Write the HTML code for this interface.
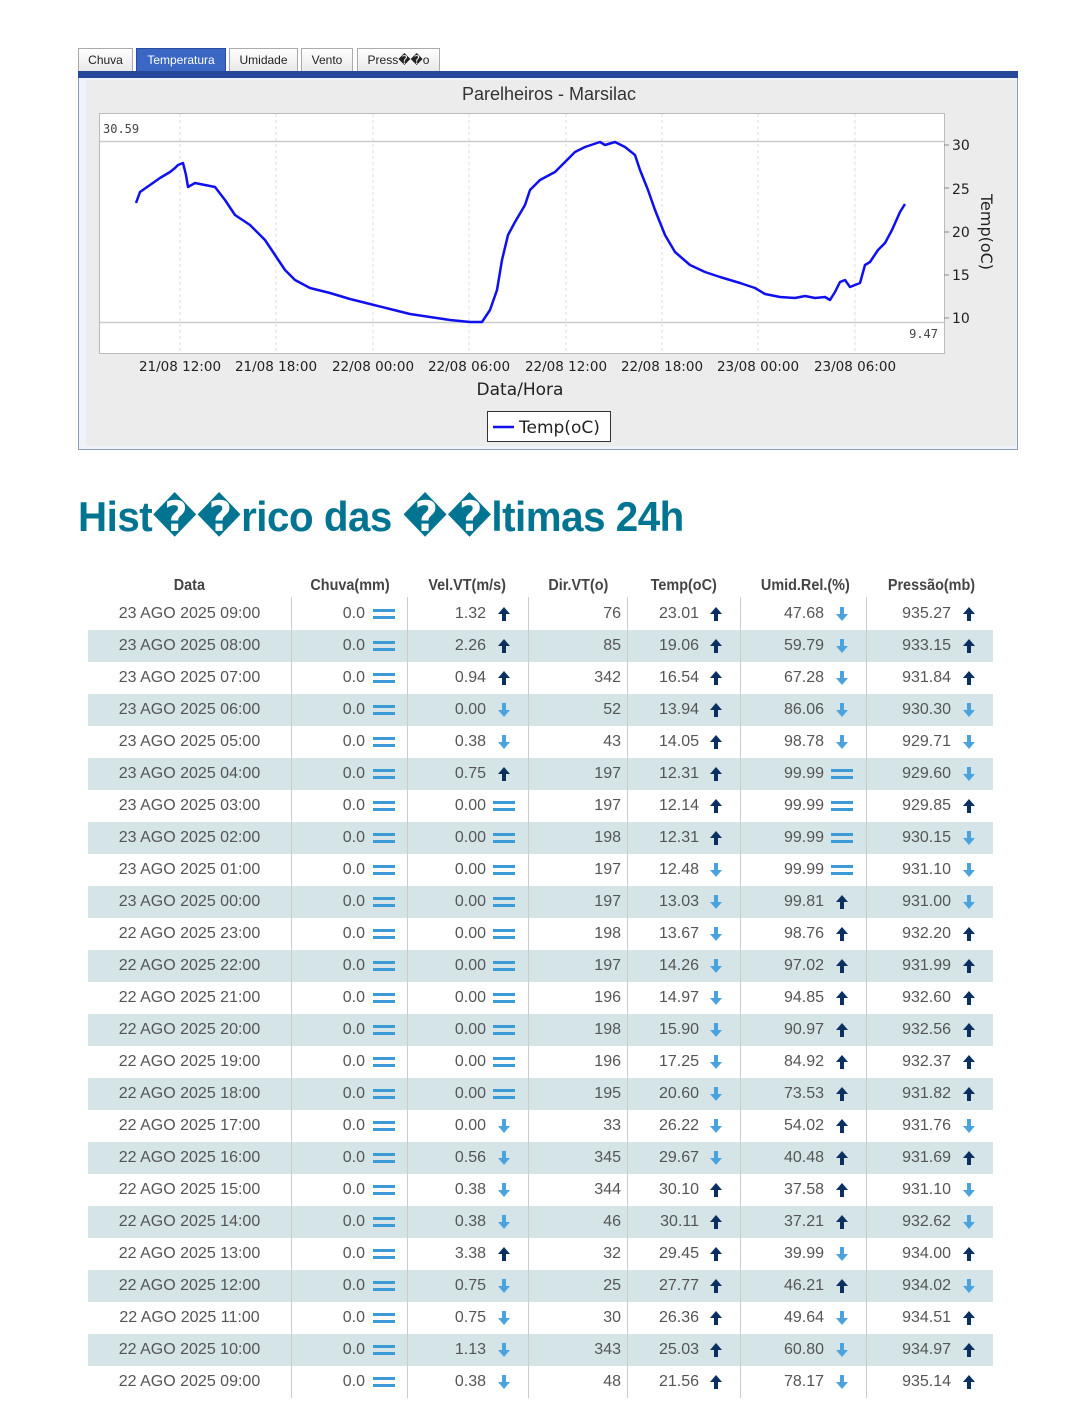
<!DOCTYPE html>
<html><head><meta charset="utf-8"><style>
*{margin:0;padding:0;box-sizing:border-box}
body{width:1080px;height:1424px;background:#fff;position:relative;font-family:"Liberation Sans","DejaVu Sans",sans-serif;overflow:hidden}
.tab{position:absolute;top:48px;height:24px;border:1px solid #aaa;border-bottom:none;background:linear-gradient(#fff,#e8e8e8);font-size:12px;color:#222;text-align:center;line-height:22px}
.tab.on{background:#3a66c4;color:#fff;border-color:#2a4c9c}
#title{position:absolute;left:78px;top:492px;font-size:42px;font-weight:bold;color:#007491;white-space:nowrap;transform-origin:left top;transform:scaleX(0.96);letter-spacing:-0.5px}
.hdr{position:absolute;top:577px;font-size:16px;font-weight:bold;color:#444;transform:scaleX(0.9);white-space:nowrap}
.row{position:absolute;left:88px;width:905px;height:32px;font-size:16px;color:#555}
.row.s{background:#d5e4e7}
.c{position:absolute;top:0;height:32px;line-height:32px;text-align:right;white-space:nowrap}
.vl{position:absolute;top:597px;height:801px;width:1px;background:#ccc}
i{position:absolute;top:9px;width:22px;height:14px}
i.e::before{content:"";position:absolute;left:0;top:2px;width:22px;height:3px;background:#3b9bd6}
i.e::after{content:"";position:absolute;left:0;top:9px;width:22px;height:3px;background:#3b9bd6}
i.u::before{content:"";position:absolute;left:5px;top:0;border-left:6px solid transparent;border-right:6px solid transparent;border-bottom:7px solid #0b2f5e}
i.u::after{content:"";position:absolute;left:9px;top:6px;width:4px;height:8px;background:#0b2f5e}
i.d::before{content:"";position:absolute;left:5px;top:7px;border-left:6px solid transparent;border-right:6px solid transparent;border-top:7px solid #4aa3df}
i.d::after{content:"";position:absolute;left:9px;top:0;width:4px;height:8px;background:#4aa3df}
</style></head><body>
<div class="tab" style="left:78px;width:55px">Chuva</div>
<div class="tab on" style="left:136px;width:90px">Temperatura</div>
<div class="tab" style="left:229px;width:69px">Umidade</div>
<div class="tab" style="left:301px;width:52px">Vento</div>
<div class="tab" style="left:357px;width:83px">Press��o</div>
<svg style="position:absolute;left:0;top:0" width="1080" height="460">
<rect x="78.5" y="72.5" width="939" height="377" fill="#eef3fb" stroke="#8a9ab8"/>
<rect x="78" y="71" width="940" height="7" fill="#27489a"/>
<rect x="86" y="80" width="930" height="366" fill="#ececec"/>
<text x="549" y="100" font-size="18" text-anchor="middle" fill="#333" font-family="Liberation Sans,sans-serif">Parelheiros - Marsilac</text>
<rect x="99.5" y="113.5" width="845" height="240" fill="#fff" stroke="#bbb"/>
<g stroke="#ddd" stroke-dasharray="3,3">
<line x1="180" y1="114" x2="180" y2="353"/><line x1="276" y1="114" x2="276" y2="353"/><line x1="373" y1="114" x2="373" y2="353"/><line x1="469" y1="114" x2="469" y2="353"/><line x1="566" y1="114" x2="566" y2="353"/><line x1="662" y1="114" x2="662" y2="353"/><line x1="758" y1="114" x2="758" y2="353"/><line x1="855" y1="114" x2="855" y2="353"/>
</g>
<line x1="100" y1="141.5" x2="944" y2="141.5" stroke="#ccc" stroke-width="1.5"/>
<line x1="100" y1="322.5" x2="944" y2="322.5" stroke="#ccc" stroke-width="1.5"/>
<text x="103" y="133" font-size="12" fill="#444" font-family="DejaVu Sans Mono,monospace">30.59</text>
<text x="938" y="338" font-size="12" fill="#444" text-anchor="end" font-family="DejaVu Sans Mono,monospace">9.47</text>
<polyline fill="none" stroke="#1010ee" stroke-width="2.5" stroke-linejoin="round" points="136,203 140,192 150,185 160,178 170,172 175,168 178,165 183,163 186,175 188,187 195,183 205,185 215,187 225,200 235,215 250,225 265,240 275,255 285,270 295,280 310,288 330,293 350,299 370,304 390,309 410,314 430,317 450,320 470,322 482,322 490,310 497,290 502,260 508,235 515,222 525,205 530,190 540,180 555,172 565,162 575,152 585,147 600,142 605,145 615,142 625,147 635,155 640,170 648,190 655,210 665,235 675,252 690,265 705,272 720,277 740,283 755,288 765,294 780,297 795,298 805,296 815,298 825,297 830,300 835,292 840,282 845,280 850,287 855,285 860,283 865,265 870,262 878,250 885,243 892,230 900,212 905,204"/>
<g stroke="#888"><line x1="944" y1="145" x2="949" y2="145"/><line x1="944" y1="188" x2="949" y2="188"/><line x1="944" y1="232" x2="949" y2="232"/><line x1="944" y1="275" x2="949" y2="275"/><line x1="944" y1="318" x2="949" y2="318"/></g>
<g font-size="14" fill="#222" font-family="DejaVu Sans,sans-serif">
<text x="952" y="150">30</text><text x="952" y="194">25</text><text x="952" y="237">20</text><text x="952" y="280">15</text><text x="952" y="323">10</text>
</g>
<text transform="translate(981,232) rotate(90)" font-size="16" fill="#222" text-anchor="middle" font-family="DejaVu Sans,sans-serif">Temp(oC)</text>
<g font-size="13.5" fill="#222" text-anchor="middle" font-family="DejaVu Sans,sans-serif">
<text x="180" y="371">21/08 12:00</text><text x="276" y="371">21/08 18:00</text><text x="373" y="371">22/08 00:00</text><text x="469" y="371">22/08 06:00</text><text x="566" y="371">22/08 12:00</text><text x="662" y="371">22/08 18:00</text><text x="758" y="371">23/08 00:00</text><text x="855" y="371">23/08 06:00</text>
</g>
<text x="520" y="395" font-size="17" fill="#222" text-anchor="middle" font-family="DejaVu Sans,sans-serif">Data/Hora</text>
<rect x="487.5" y="411.5" width="123" height="30" fill="#fff" stroke="#333"/>
<line x1="493" y1="427" x2="514" y2="427" stroke="#1010ee" stroke-width="2.5"/>
<text x="519" y="433" font-size="17" fill="#222" font-family="DejaVu Sans,sans-serif">Temp(oC)</text>
</svg>
<div id="title">Hist��rico das ��ltimas 24h</div>
<div class="hdr" style="left:172px">Data</div>
<div class="hdr" style="left:306px">Chuva(mm)</div>
<div class="hdr" style="left:424px">Vel.VT(m/s)</div>
<div class="hdr" style="left:545px">Dir.VT(o)</div>
<div class="hdr" style="left:647px">Temp(oC)</div>
<div class="hdr" style="left:756px">Umid.Rel.(%)</div>
<div class="hdr" style="left:883px">Pressão(mb)</div>
<div id="rows"></div>
<script>
var D=[
["23 AGO 2025 09:00","1.32","u","76","23.01","u","47.68","d","935.27","u"],
["23 AGO 2025 08:00","2.26","u","85","19.06","u","59.79","d","933.15","u"],
["23 AGO 2025 07:00","0.94","u","342","16.54","u","67.28","d","931.84","u"],
["23 AGO 2025 06:00","0.00","d","52","13.94","u","86.06","d","930.30","d"],
["23 AGO 2025 05:00","0.38","d","43","14.05","u","98.78","d","929.71","d"],
["23 AGO 2025 04:00","0.75","u","197","12.31","u","99.99","e","929.60","d"],
["23 AGO 2025 03:00","0.00","e","197","12.14","u","99.99","e","929.85","u"],
["23 AGO 2025 02:00","0.00","e","198","12.31","u","99.99","e","930.15","d"],
["23 AGO 2025 01:00","0.00","e","197","12.48","d","99.99","e","931.10","d"],
["23 AGO 2025 00:00","0.00","e","197","13.03","d","99.81","u","931.00","d"],
["22 AGO 2025 23:00","0.00","e","198","13.67","d","98.76","u","932.20","u"],
["22 AGO 2025 22:00","0.00","e","197","14.26","d","97.02","u","931.99","u"],
["22 AGO 2025 21:00","0.00","e","196","14.97","d","94.85","u","932.60","u"],
["22 AGO 2025 20:00","0.00","e","198","15.90","d","90.97","u","932.56","u"],
["22 AGO 2025 19:00","0.00","e","196","17.25","d","84.92","u","932.37","u"],
["22 AGO 2025 18:00","0.00","e","195","20.60","d","73.53","u","931.82","u"],
["22 AGO 2025 17:00","0.00","d","33","26.22","d","54.02","u","931.76","d"],
["22 AGO 2025 16:00","0.56","d","345","29.67","d","40.48","u","931.69","u"],
["22 AGO 2025 15:00","0.38","d","344","30.10","u","37.58","u","931.10","d"],
["22 AGO 2025 14:00","0.38","d","46","30.11","u","37.21","u","932.62","d"],
["22 AGO 2025 13:00","3.38","u","32","29.45","u","39.99","d","934.00","u"],
["22 AGO 2025 12:00","0.75","d","25","27.77","u","46.21","u","934.02","d"],
["22 AGO 2025 11:00","0.75","d","30","26.36","u","49.64","d","934.51","u"],
["22 AGO 2025 10:00","1.13","d","343","25.03","u","60.80","d","934.97","u"],
["22 AGO 2025 09:00","0.38","d","48","21.56","u","78.17","d","935.14","u"]];
var h="";
D.forEach(function(r,k){
h+='<div class="row'+(k%2?' s':'')+'" style="top:'+(598+k*32)+'px">'+
'<div class="c" style="left:0;width:203px;text-align:center">'+r[0]+'</div>'+
'<div class="c" style="right:628px">0.0</div><i class="e" style="left:285px"></i>'+
'<div class="c" style="right:507px">'+r[1]+'</div><i class="'+r[2]+'" style="left:405px"></i>'+
'<div class="c" style="right:372px">'+r[3]+'</div>'+
'<div class="c" style="right:294px">'+r[4]+'</div><i class="'+r[5]+'" style="left:617px"></i>'+
'<div class="c" style="right:169px">'+r[6]+'</div><i class="'+r[7]+'" style="left:743px"></i>'+
'<div class="c" style="right:42px">'+r[8]+'</div><i class="'+r[9]+'" style="left:870px"></i>'+
'</div>';});
[291,407,528,627,740,866].forEach(function(x){h+='<div class="vl" style="left:'+x+'px"></div>';});
document.getElementById("rows").innerHTML=h;
</script>
</body></html>
